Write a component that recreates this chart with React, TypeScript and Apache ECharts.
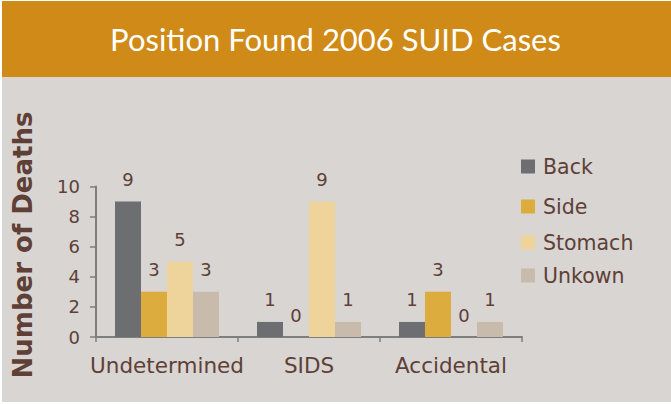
import React, { useEffect, useRef } from "react";
import * as echarts from "echarts";

const titleText = "Position Found 2006 SUID Cases";
const yAxisTitle = "Number of Deaths";
const categories = ["Undetermined", "SIDS", "Accidental"];
const seriesNames = ["Back", "Side", "Stomach", "Unkown"];
const backValues = [9, 1, 1];
const sideValues = [3, 0, 3];
const stomachValues = [5, 9, 0];
const unknownValues = [3, 1, 1];
const seriesColors = ["#6D6E72", "#DCAC3F", "#EED49B", "#C8BBAC"];
const legendTops = [156, 196, 232, 265];

const BROWN = "#5E4037";
const FONT = "'DejaVu Sans', sans-serif";

export default function App() {
  const ref = useRef<HTMLDivElement>(null);
  useEffect(() => {
    document.body.style.margin = "0";
    const chart = echarts.init(ref.current!, null, { renderer: "svg" });
    const values = [backValues, sideValues, stomachValues, unknownValues];
    const option: any = {
      animation: false,
      backgroundColor: "#ffffff",
      title: {
        text: titleText,
        left: "center",
        top: 18,
        textStyle: {
          color: "#ffffff",
          fontSize: 31,
          fontWeight: "normal",
          fontFamily: "Lato, sans-serif",
        },
      },
      graphic: [
        {
          type: "rect",
          z: -10,
          silent: true,
          shape: { x: 2, y: 1, width: 669, height: 401 },
          style: { fill: "#D8D5D2" },
        },
        {
          type: "rect",
          z: -9,
          silent: true,
          shape: { x: 2, y: 1, width: 669, height: 76 },
          style: { fill: "#CF8A17" },
        },
        {
          type: "text",
          x: 23,
          y: 245,
          rotation: Math.PI / 2,
          style: {
            text: yAxisTitle,
            fill: BROWN,
            font: "bold 26px 'DejaVu Sans', sans-serif",
            textAlign: "center",
            textVerticalAlign: "middle",
          },
        },
      ],
      legend: seriesNames.map((n, i) => ({
        data: [n],
        left: 521,
        top: legendTops[i],
        padding: 0,
        icon: "rect",
        itemWidth: 14,
        itemHeight: 14,
        textStyle: {
          color: BROWN,
          fontSize: 20.5,
          fontFamily: FONT,
          padding: [0, 0, 0, 3],
        },
      })),
      grid: { left: 96, top: 186.5, width: 426, height: 150.5 },
      xAxis: {
        type: "category",
        data: categories,
        axisLine: { lineStyle: { color: "#7E7E80", width: 2 } },
        axisTick: { show: true, length: 5, lineStyle: { color: "#7E7E80", width: 1.5 } },
        axisLabel: { interval: 0, color: BROWN, fontSize: 21.5, fontFamily: FONT, margin: 17 },
      },
      yAxis: {
        type: "value",
        min: 0,
        max: 10,
        interval: 2,
        splitLine: { show: false },
        axisLine: { show: true, lineStyle: { color: "#7E7E80", width: 2 } },
        axisTick: { show: true, length: 6, lineStyle: { color: "#7E7E80", width: 1.5 } },
        axisLabel: { color: BROWN, fontSize: 18, fontFamily: FONT, margin: 16 },
      },
      series: seriesNames.map((n, i) => ({
        name: n,
        type: "bar",
        data: values[i],
        barWidth: 26,
        barGap: "0%",
        itemStyle: { color: seriesColors[i] },
        label: {
          show: true,
          position: "top",
          distance: 13,
          color: BROWN,
          fontSize: 18,
          fontFamily: FONT,
        },
      })),
    };
    chart.setOption(option);
    return () => chart.dispose();
  }, []);
  return (
    <div
      ref={ref}
      style={{ position: "fixed", left: 0, top: 0, width: 671, height: 404 }}
    />
  );
}
